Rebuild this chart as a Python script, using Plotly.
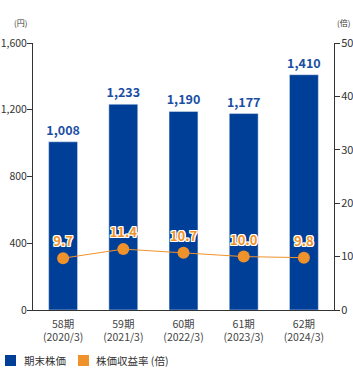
import plotly.graph_objects as go

categories = ["58期<br>(2020/3)", "59期<br>(2021/3)", "60期<br>(2022/3)", "61期<br>(2023/3)", "62期<br>(2024/3)"]
stock_price = [1008, 1233, 1190, 1177, 1410]
per = [9.7, 11.4, 10.7, 10.0, 9.8]
price_ticks = [0, 400, 800, 1200, 1600]
per_ticks = [0, 10, 20, 30, 40, 50]
legend_labels = ["期末株価", "株価収益率 (倍)"]

BLUE = "#003f98"
ORANGE = "#f0922b"
FONT = "Noto Sans CJK JP"

L, R, T, B = 33, 19, 43, 60
W, H = 353, 370
PW, PH = W - L - R, H - T - B


def px(x):
    return (x - L) / PW


def py(y):
    return (H - B - y) / PH


fig = go.Figure()
fig.add_trace(go.Bar(
    x=categories, y=stock_price, marker_color=BLUE, showlegend=False,
    text=[f"{v:,}" for v in stock_price], textposition="outside",
    constraintext="none",
    textfont=dict(color="#1a4ea3", size=12.5, family=FONT, weight="bold"),
    cliponaxis=False, width=0.48,
))
fig.add_trace(go.Scatter(
    x=categories, y=per, yaxis="y2", mode="lines+markers+text",
    line=dict(color=ORANGE, width=1),
    marker=dict(size=12, color=ORANGE),
    text=[f"{v:.1f}" for v in per], textposition="top center",
    textfont=dict(color=ORANGE, size=13, family=FONT, weight="bold",
                  shadow="1px 1px 0 #fff, -1px -1px 0 #fff, 1px -1px 0 #fff, -1px 1px 0 #fff, 0 1px 0 #fff, 0 -1px 0 #fff, 1px 0 0 #fff, -1px 0 0 #fff"),
    showlegend=False, cliponaxis=False,
))

shapes = []
annotations = [
    dict(text="(円)", x=px(20), y=py(22), xref="paper", yref="paper", showarrow=False,
         font=dict(size=8, color="#333"), xanchor="center", yanchor="middle"),
    dict(text="(倍)", x=px(343), y=py(22), xref="paper", yref="paper", showarrow=False,
         font=dict(size=8, color="#333"), xanchor="center", yanchor="middle"),
]
for (x0, tx), color, label in zip([(5, 22), (78, 94)], [BLUE, ORANGE], legend_labels):
    shapes.append(dict(type="rect", xref="paper", yref="paper",
                       x0=px(x0), x1=px(x0 + 11), y0=py(355), y1=py(366),
                       fillcolor=color, line=dict(width=0)))
    annotations.append(dict(text=label, x=px(tx), y=py(360), xref="paper", yref="paper",
                            showarrow=False, xanchor="left", yanchor="middle",
                            font=dict(size=10.5, color="#333")))

fig.update_layout(
    width=W, height=H,
    margin=dict(l=L, r=R, t=T, b=B),
    paper_bgcolor="white", plot_bgcolor="white",
    font=dict(family=FONT, size=11, color="#333"),
    showlegend=False,
    xaxis=dict(showline=True, linecolor="#333", linewidth=1, ticks="",
               tickfont=dict(size=10.5, color="#444"), automargin=False,
               ticklabelstandoff=4),
    yaxis=dict(range=[0, 1600], tickvals=price_ticks, tickformat=",",
               showline=True, linecolor="#333", linewidth=1, ticks="outside",
               ticklen=5, tickcolor="#333", showgrid=False, zeroline=False,
               tickfont=dict(size=10.5, color="#333"), automargin=False,
               ticklabelstandoff=-2),
    yaxis2=dict(range=[0, 50], tickvals=per_ticks, overlaying="y", side="right",
                showline=True, linecolor="#333", linewidth=1, ticks="outside",
                ticklen=5, tickcolor="#333", showgrid=False, zeroline=False,
                tickfont=dict(size=11, color="#333"), automargin=False,
                ticklabelstandoff=-1),
    shapes=shapes,
    annotations=annotations,
    bargap=0.52,
)
fig.write_html("out.html")
